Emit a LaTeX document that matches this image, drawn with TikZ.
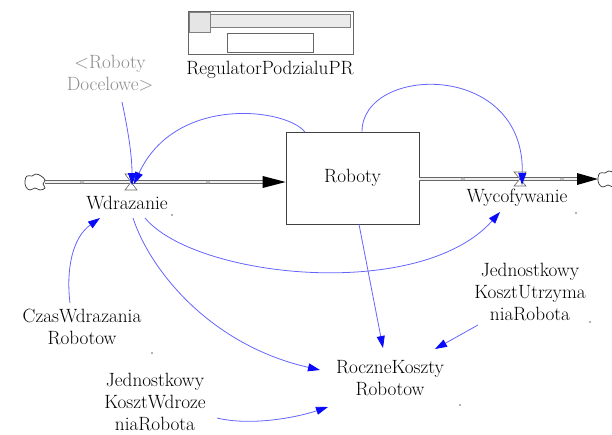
\documentclass[tikz,border=0pt]{standalone}
\usetikzlibrary{arrows.meta,calc}
\definecolor{linkblue}{RGB}{100,100,255}
\definecolor{tipblue}{RGB}{10,10,250}
\begin{document}
\begin{tikzpicture}[x=1pt,y=-1pt,
  lbl/.style={font=\rmfamily\fontsize{19.2}{22}\selectfont, align=center, inner sep=0pt, text=black},
  ghost/.style={lbl, text=black!45},
  conn/.style={draw=linkblue, line width=0.8pt, -{Triangle[length=12pt,width=8pt,color=tipblue]}},
  pipe/.style={draw=black!60, double=black!6, double distance=2.6pt, line width=0.6pt},
  valveshape/.style={draw=black!60, fill=white, line width=0.6pt},
  cloudshape/.style={draw=black!80, fill=white, line width=0.7pt},
  handle/.style={draw=black!45, line width=0.4pt},
  speck/.style={fill=black!40}
]
\useasboundingbox (0,0) rectangle (612,434);

% slider
\draw[black!60, line width=0.6pt] (188,11) rectangle (353,54);
\draw[black!50, fill=black!8, line width=0.5pt] (210,14) rectangle (350,27);
\draw[black!50, fill=black!10, line width=0.5pt] (189,12) rectangle (210,32);
\draw[black!60, fill=white, line width=0.6pt] (227,33) rectangle (313,52);
\node[lbl] (reg) at (270,70) {RegulatorPodzialuPR};

% stock
\node[lbl, draw=black!75, line width=0.7pt, minimum width=133pt, minimum height=92pt] (roboty) at (352.5,178) {Roboty};

% clouds and valves
\coordinate (cl1) at (35,182);
\coordinate (cl2) at (608,179);
\coordinate (v1) at (131,182);
\coordinate (v2) at (520,179);

% pipes
\draw[pipe] ($(cl1)+(10,0)$) -- ($(roboty.west)+(-20,4)$);
\fill[black] ($(roboty.west)+(-23,-2)$) -- ($(roboty.west)+(0,4)$) -- ($(roboty.west)+(-23,10)$) -- cycle;
\draw[pipe] ($(roboty.east)+(0,1)$) -- ($(cl2)+(-28,0)$);
\fill[black] ($(cl2)+(-31,-6)$) -- ($(cl2)+(-10,0)$) -- ($(cl2)+(-31,6)$) -- cycle;

\draw[cloudshape, shift={(cl1)}] plot[smooth cycle, tension=0.7] coordinates
  {(-10,-1) (-8,-6) (-3,-6) (1,-8) (6,-6) (10,-2) (8,2) (10,6) (5,8) (0,6) (-5,8) (-9,5)};
\draw[cloudshape, shift={(cl2)}] plot[smooth cycle, tension=0.7] coordinates
  {(-10,-1) (-8,-6) (-3,-6) (1,-8) (6,-6) (10,-2) (8,2) (10,6) (5,8) (0,6) (-5,8) (-9,5)};

\draw[valveshape, shift={(v1)}] (-6,-8) -- (6,-8) -- (-6,8) -- (6,8) -- cycle;
\draw[valveshape, shift={(v2)}] (-6,-7) -- (6,-7) -- (-6,7) -- (6,7) -- cycle;

% pipe handles
\draw[handle] (82,182) circle (1.5);
\draw[handle] (208,182) circle (1.5);
\draw[handle] (463,179) circle (1.5);
\draw[handle] (562,179) circle (1.5);

% labels
\node[lbl] (wdr) at (127,203) {Wdrazanie};
\node[lbl] (wyc) at (517,198) {Wycofywanie};
\node[ghost] (docel) at (110,73) {<Roboty\\Docelowe>};
\node[lbl] (czas) at (82,327) {CzasWdrazania\\Robotow};
\node[lbl] (rk) at (390,378) {RoczneKoszty\\Robotow};
\node[lbl] (ku) at (530,292) {Jednostkowy\\KosztUtrzyma\\niaRobota};
\node[lbl] (kw) at (155,402) {Jednostkowy\\KosztWdroze\\niaRobota};

% connectors
\draw[conn] ($(docel)+(12,29)$) .. controls (128,130) and (132,155) .. ($(v1)+(1,3)$);
\draw[conn] ($(roboty.north west)+(19,0)$) .. controls (285,108) and (175,95) .. ($(v1)+(3,2)$);
\draw[conn] ($(roboty.north)+(9.5,0)$) .. controls (362,65) and (525,60) .. ($(v2)+(2,6)$);
\draw[conn] ($(wdr)+(18,15)$) .. controls (195,278) and (420,302) .. ($(wyc)+(-17,14)$);
\draw[conn] ($(wdr)+(6,15)$) .. controls (150,270) and (210,345) .. ($(rk)+(-70,-8)$);
\draw[conn] ($(roboty.south)+(6.5,0)$) -- ($(rk)+(-7,-30)$);
\draw[conn] ($(ku)+(-52,33)$) -- ($(rk)+(45,-29)$);
\draw[conn] ($(czas)+(-12,-24)$) .. controls (66,270) and (72,238) .. ($(wdr)+(-27,15)$);
\draw[conn] ($(kw)+(62,16)$) .. controls (250,426) and (295,418) .. ($(rk)+(-62,29)$);

% specks
\fill[speck] (172,215) circle (1.2);
\fill[speck] (576,213) circle (1.2);
\fill[speck] (152,353) circle (1.2);
\fill[speck] (590,322) circle (1.2);
\fill[speck] (460,405) circle (1.2);
\end{tikzpicture}
\end{document}
